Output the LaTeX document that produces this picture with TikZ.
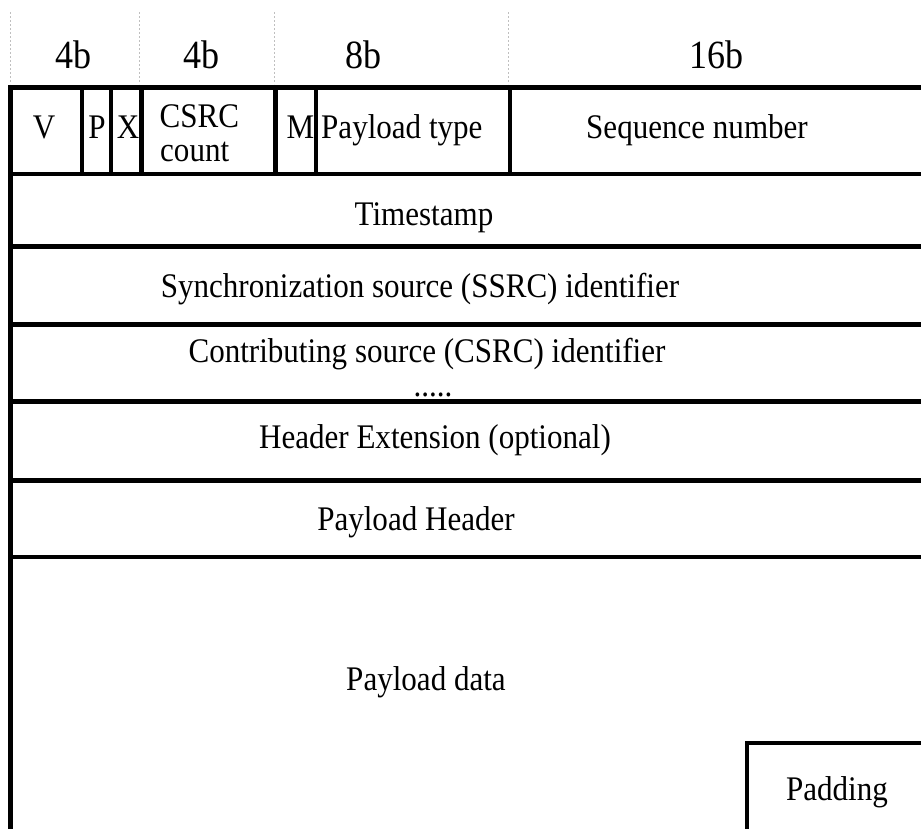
\documentclass[tikz,border=0pt]{standalone}
\usepackage{fontspec}
\setmainfont[FakeStretch=0.9]{Liberation Serif}
\begin{document}
\begin{tikzpicture}[x=1pt,y=-1pt,
  rule/.style={line width=4.5pt, line cap=rect},
  guide/.style={gray!50, line width=1pt, dash pattern=on 2pt off 2pt},
  bits/.style={inner sep=0, anchor=base, font=\fontsize{40}{44}\selectfont},
  field/.style={inner sep=0, anchor=base, font=\fontsize{34.5}{38}\selectfont}]
\useasboundingbox (0,0) rectangle (921,828);
\clip (0,0) rectangle (921,828);

% bit-width guides and labels
\foreach \gx in {10,139,274,508} \draw[guide] (\gx,12) -- (\gx,84);
\node[bits] (w1) at (73,68) {4b};
\node[bits] (w2) at (201,68) {4b};
\node[bits] (w3) at (363,68) {8b};
\node[bits] (w4) at (716,68) {16b};

% outer frame (open to the right and below)
\draw[rule] (10.5,87.5) -- (940,87.5);
\draw[rule] (10.5,87.5) -- (10.5,850);

% row separators
\foreach \ry in {174,246.5,324.5,401.5,480.5,557} \draw[rule] (10.5,\ry) -- (940,\ry);

% first-row field dividers
\foreach \cx in {82,111,141.5,275.5,316,510} \draw[rule] (\cx,87.5) -- (\cx,174);

% padding box in the payload corner
\draw[rule] (940,743) -- (747,743) -- (747,850);

% first-row fields
\node[field] (v) at (44,138) {V};
\node[field] (p) at (97,138) {P};
\node[field] (x) at (128,138) {X};
\node[field, anchor=base west] (cc1) at (159.5,127) {CSRC};
\node[field, anchor=base west] (cc2) at (160,161) {count};
\node[field] (m) at (300.5,138) {M};
\node[field, anchor=base west] (pt) at (321,138) {Payload type};
\node[field] (seq) at (697,138) {Sequence number};

% full-width rows
\node[field] (ts) at (424,225) {Timestamp};
\node[field] (ssrc) at (420,297) {Synchronization source (SSRC) identifier};
\node[field] (csrc) at (427,362) {Contributing source (CSRC) identifier};
\node[field] (dots) at (433,396) {.....};
\node[field] (ext) at (435,448) {Header Extension (optional)};
\node[field] (ph) at (416,530) {Payload Header};
\node[field] (pd) at (426,690) {Payload data};
\node[field] (pad) at (837,800) {Padding};
\end{tikzpicture}
\end{document}
